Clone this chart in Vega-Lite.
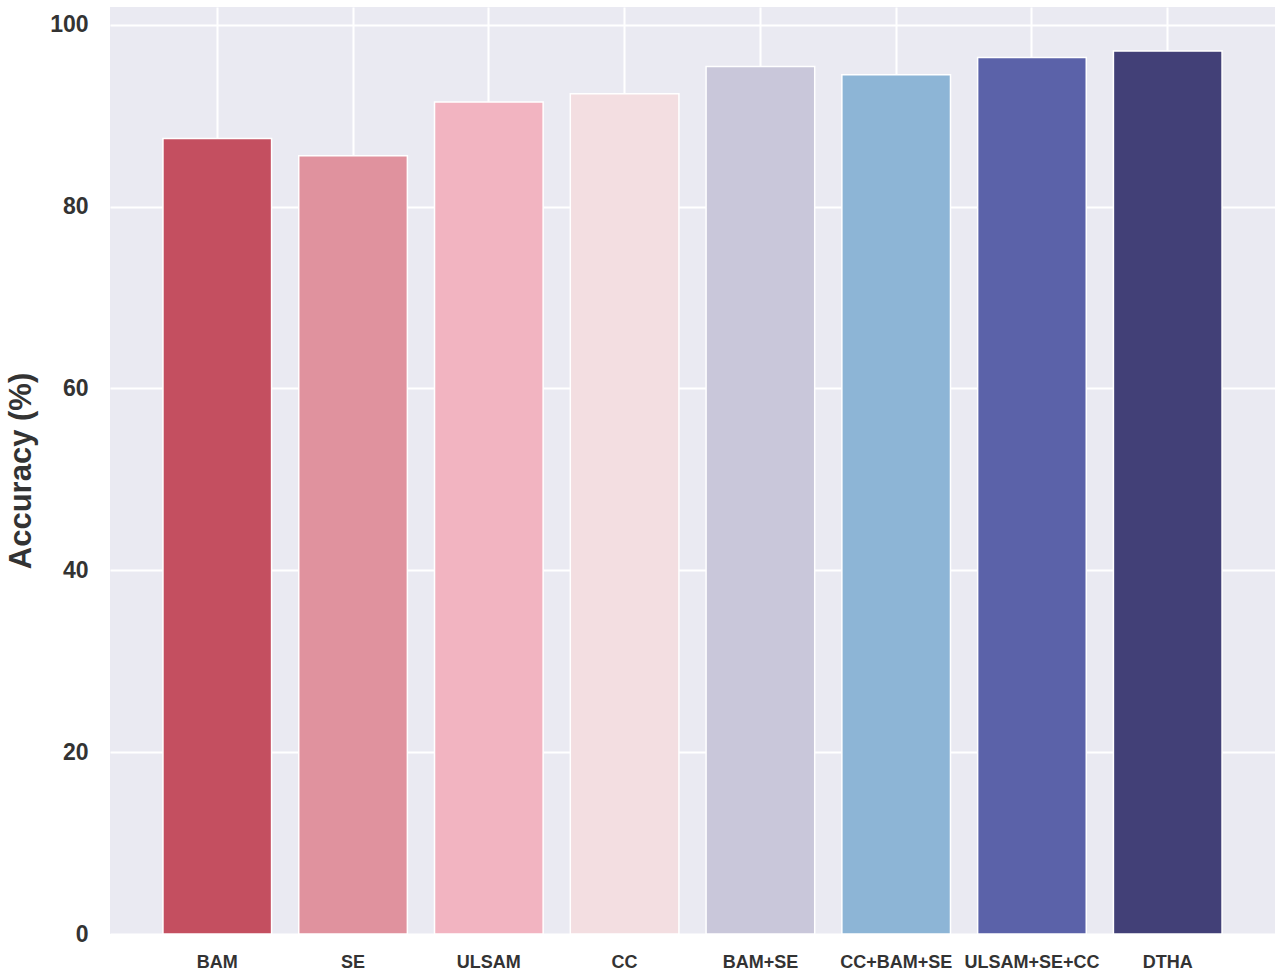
{
  "$schema": "https://vega.github.io/schema/vega-lite/v6.json",
  "width": 1165,
  "height": 927,
  "autosize": {"type": "none"},
  "padding": {"left": 110, "top": 7, "right": 5, "bottom": 40},
  "background": "white",
  "config": {
    "view": {"fill": "#EAEAF2", "stroke": null},
    "font": "Liberation Sans"
  },
  "data": {
    "values": [
      {"method": "BAM", "accuracy": 87.5, "color": "#C44F60"},
      {"method": "SE", "accuracy": 85.6, "color": "#E0929E"},
      {"method": "ULSAM", "accuracy": 91.5, "color": "#F2B4C1"},
      {"method": "CC", "accuracy": 92.4, "color": "#F3DEE1"},
      {"method": "BAM+SE", "accuracy": 95.4, "color": "#C9C7DA"},
      {"method": "CC+BAM+SE", "accuracy": 94.5, "color": "#8DB5D6"},
      {"method": "ULSAM+SE+CC", "accuracy": 96.4, "color": "#5B62A9"},
      {"method": "DTHA", "accuracy": 97.1, "color": "#424077"}
    ]
  },
  "mark": {"type": "bar", "stroke": "white", "strokeWidth": 1.5},
  "encoding": {
    "x": {
      "field": "method",
      "type": "nominal",
      "sort": null,
      "scale": {"paddingInner": 0.2, "paddingOuter": 0.39},
      "axis": {
        "title": null,
        "labelAngle": 0,
        "labelFont": "Liberation Sans",
        "labelFontSize": 18,
        "labelFontWeight": "bold",
        "labelColor": "#333333",
        "labelPadding": 19,
        "labelOverlap": false,
        "ticks": false,
        "domain": false,
        "grid": true,
        "gridColor": "white",
        "gridWidth": 2,
        "bandPosition": 0.5
      }
    },
    "y": {
      "field": "accuracy",
      "type": "quantitative",
      "scale": {"domain": [0, 101.95], "nice": false, "zero": true},
      "axis": {
        "title": "Accuracy (%)",
        "titleFontSize": 31,
        "titleFontWeight": "bold",
        "titleColor": "#333333",
        "titlePadding": 12,
        "values": [0, 20, 40, 60, 80, 100],
        "labelFontSize": 23,
        "labelFontWeight": "bold",
        "labelColor": "#333333",
        "labelPadding": 22,
        "ticks": false,
        "domain": false,
        "grid": true,
        "gridColor": "white",
        "gridWidth": 2
      }
    },
    "color": {"field": "color", "type": "nominal", "scale": null, "legend": null}
  }
}
